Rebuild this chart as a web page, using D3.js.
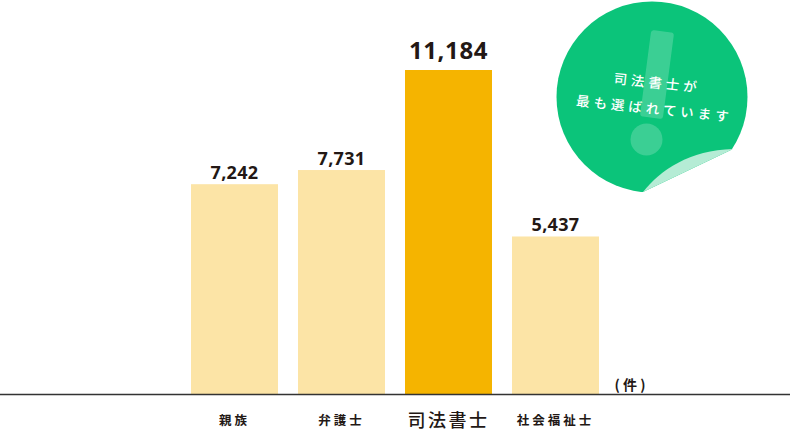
<!DOCTYPE html>
<html><head><meta charset="utf-8">
<script src="https://cdn.jsdelivr.net/npm/d3@7"></script>
<style>
html,body{margin:0;padding:0;background:#fff;}
svg{display:block;font-family:"Noto Sans CJK JP","Noto Sans",sans-serif;}
</style></head>
<body>
<svg id="c" width="792" height="433"></svg>
<script>
const categories = ["親族", "弁護士", "司法書士", "社会福祉士"];
const values = [7242, 7731, 11184, 5437];
const highlight = "司法書士";
const unitLabel = "( 件 )";
const badgeLines = ["司法書士が", "最も選ばれています"];

const svg = d3.select("#c");
const baseY = 394;
const textColor = "#231815";

const x = d3.scaleBand().domain(categories).range([171, 619]).padding(20/107);
const y = d3.scaleLinear().domain([0, d3.max(values)]).range([baseY, 70]);

const data = categories.map((c, i) => ({c, v: values[i]}));

// bars
svg.append("g").selectAll("rect").data(data).join("rect")
  .attr("x", d => x(d.c))
  .attr("y", d => y(d.v))
  .attr("width", x.bandwidth())
  .attr("height", d => baseY - y(d.v))
  .attr("fill", d => d.c === highlight ? "#f5b400" : "#fce4a6");

// value labels
svg.append("g").selectAll("text").data(data).join("text")
  .attr("x", d => x(d.c) + x.bandwidth()/2)
  .attr("y", d => y(d.v) - (d.c === highlight ? 11 : 5))
  .attr("text-anchor", "middle")
  .attr("font-family", "'Noto Sans','Noto Sans CJK JP',sans-serif")
  .attr("font-weight", 700)
  .attr("font-size", d => d.c === highlight ? 24 : 18)
  .attr("letter-spacing", d => d.c === highlight ? 0.6 : 0.3)
  .attr("fill", textColor)
  .text(d => d3.format(",")(d.v));

// baseline
svg.append("line")
  .attr("x1", 0).attr("x2", 790)
  .attr("y1", baseY + 0.5).attr("y2", baseY + 0.5)
  .attr("stroke", "#333").attr("stroke-width", 1.4);

// category axis
const axis = d3.axisBottom(x).tickSize(0).tickPadding(0);
const ag = svg.append("g").attr("transform", `translate(0,${baseY})`).call(axis);
ag.select(".domain").remove();
ag.selectAll(".tick text")
  .attr("y", 28)
  .attr("dy", 0)
  .attr("font-family", "'Noto Sans CJK JP',sans-serif")
  .attr("font-weight", d => d === highlight ? 500 : 700)
  .attr("font-size", d => d === highlight ? 18 : 12.5)
  .attr("letter-spacing", d => d === highlight ? 2.5 : 3)
  .attr("fill", textColor)
  .attr("dominant-baseline", "middle")
  .attr("text-anchor", "middle");

// unit
svg.append("text")
  .attr("x", 630).attr("y", 386)
  .attr("text-anchor", "middle")
  .attr("dominant-baseline", "middle")
  .attr("font-size", 14).attr("font-weight", 700)
  .attr("fill", textColor)
  .text(unitLabel);

// badge
const badge = svg.append("g");
const cx = 652, cy = 97, r = 95.5;
const defs = svg.append("defs");
defs.append("clipPath").attr("id", "cut")
  .append("path").attr("d", "M0,0 L792,0 L792,110 L733,149 L643,192 L0,250 Z");
badge.append("circle").attr("cx", cx).attr("cy", cy).attr("r", r)
  .attr("fill", "#0bc47a").attr("clip-path", "url(#cut)");
// exclamation
badge.append("rect")
  .attr("x", 657 - 11.5).attr("y", 74.5 - 43.5)
  .attr("width", 23).attr("height", 87).attr("rx", 3)
  .attr("transform", "rotate(7.5,657,74.5)")
  .attr("fill", "#ffffff").attr("fill-opacity", 0.2);
badge.append("circle").attr("cx", 646.5).attr("cy", 139.5).attr("r", 16)
  .attr("fill", "#ffffff").attr("fill-opacity", 0.2);
// peel
badge.append("path")
  .attr("d", "M643,192 C660,170 690,150 733,149 Z")
  .attr("fill", "#b5ecd5");
// text
const tg = badge.append("g").attr("transform", "rotate(6,654,94)");
tg.selectAll("text").data(badgeLines).join("text")
  .attr("x", 656)
  .attr("y", (d, i) => 84 + i * 26)
  .attr("text-anchor", "middle")
  .attr("dominant-baseline", "middle")
  .attr("font-size", 13.5).attr("font-weight", 500)
  .attr("letter-spacing", 4)
  .attr("fill", "#fff")
  .text(d => d);
</script>
</body></html>
